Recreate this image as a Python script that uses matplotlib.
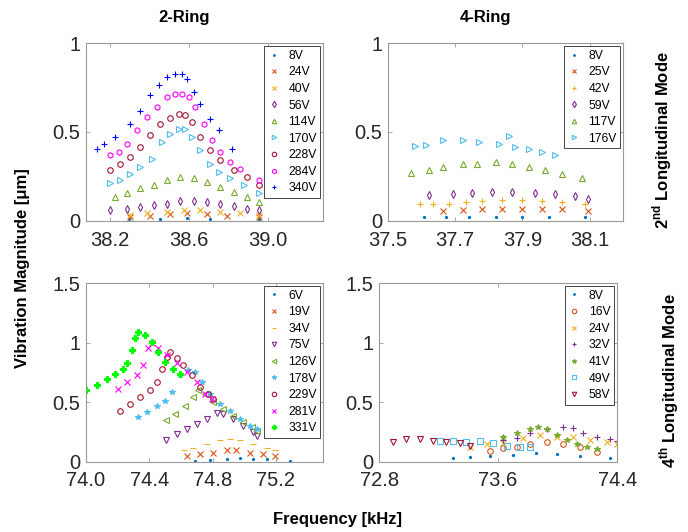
import matplotlib
matplotlib.use("Agg")
import matplotlib.pyplot as plt

plt.rcParams['font.family'] = ['Liberation Sans', 'DejaVu Sans']
plt.rcParams['mathtext.fontset'] = 'custom'
plt.rcParams['mathtext.bf'] = 'Liberation Sans:bold'
plt.rcParams['mathtext.rm'] = 'Liberation Sans'

# ---- 2-Ring, 2nd longitudinal mode ----
r2m2_labels = ["8V", "24V", "40V", "56V", "114V", "170V", "228V", "284V", "340V"]
r2m2_f8 = [38.296, 38.456, 38.59, 38.708, 38.953]
r2m2_a8 = [0.009, 0.011, 0.013, 0.011, 0.009]
r2m2_f24 = [38.304, 38.405, 38.506, 38.59, 38.692, 38.793, 38.953]
r2m2_a24 = [0.022, 0.028, 0.036, 0.041, 0.036, 0.028, 0.019]
r2m2_f40 = [38.304, 38.389, 38.49, 38.574, 38.658, 38.759, 38.86, 38.953]
r2m2_a40 = [0.032, 0.041, 0.050, 0.060, 0.058, 0.049, 0.041, 0.032]
r2m2_f56 = [38.203, 38.288, 38.355, 38.422, 38.49, 38.557, 38.624, 38.692, 38.759, 38.826, 38.894, 38.953]
r2m2_a56 = [0.060, 0.069, 0.079, 0.088, 0.097, 0.112, 0.112, 0.107, 0.094, 0.082, 0.069, 0.060]
r2m2_f114 = [38.229, 38.288, 38.355, 38.422, 38.49, 38.557, 38.624, 38.692, 38.759, 38.826, 38.894, 38.953]
r2m2_a114 = [0.135, 0.154, 0.182, 0.200, 0.228, 0.247, 0.238, 0.219, 0.191, 0.163, 0.135, 0.107]
r2m2_f170 = [38.203, 38.254, 38.304, 38.355, 38.414, 38.464, 38.506, 38.548, 38.582, 38.616, 38.658, 38.708, 38.75, 38.81, 38.877, 38.953]
r2m2_a170 = [0.210, 0.228, 0.266, 0.303, 0.350, 0.444, 0.490, 0.519, 0.519, 0.472, 0.397, 0.322, 0.275, 0.238, 0.200, 0.154]
r2m2_f228 = [38.203, 38.254, 38.304, 38.355, 38.405, 38.456, 38.506, 38.548, 38.582, 38.616, 38.658, 38.708, 38.759, 38.826, 38.894, 38.953]
r2m2_a228 = [0.285, 0.322, 0.360, 0.416, 0.481, 0.547, 0.580, 0.603, 0.594, 0.556, 0.472, 0.397, 0.341, 0.285, 0.247, 0.200]
r2m2_f284 = [38.203, 38.245, 38.288, 38.338, 38.389, 38.44, 38.49, 38.532, 38.565, 38.599, 38.633, 38.675, 38.717, 38.759, 38.81, 38.86, 38.953]
r2m2_a284 = [0.369, 0.388, 0.434, 0.509, 0.584, 0.640, 0.697, 0.715, 0.715, 0.697, 0.640, 0.547, 0.453, 0.388, 0.331, 0.294, 0.228]
r2m2_f340 = [38.136, 38.17, 38.229, 38.304, 38.355, 38.405, 38.447, 38.49, 38.532, 38.565, 38.59, 38.624, 38.658, 38.708, 38.75, 38.818]
r2m2_a340 = [0.406, 0.434, 0.470, 0.547, 0.620, 0.706, 0.762, 0.810, 0.824, 0.828, 0.800, 0.725, 0.660, 0.575, 0.510, 0.406]

# ---- 4-Ring, 2nd longitudinal mode ----
r4m2_labels = ["8V", "25V", "42V", "59V", "117V", "176V"]
r4m2_f8 = [37.608, 37.672, 37.741, 37.82, 37.899, 37.978, 38.086]
r4m2_a8 = [0.019, 0.021, 0.022, 0.022, 0.022, 0.021, 0.019]
r4m2_f25 = [37.663, 37.722, 37.781, 37.84, 37.899, 37.958, 38.017, 38.096]
r4m2_a25 = [0.056, 0.060, 0.066, 0.069, 0.069, 0.066, 0.064, 0.056]
r4m2_f42 = [37.594, 37.633, 37.682, 37.732, 37.781, 37.84, 37.899, 37.958, 38.017, 38.086]
r4m2_a42 = [0.094, 0.094, 0.094, 0.103, 0.112, 0.116, 0.116, 0.112, 0.107, 0.097]
r4m2_f59 = [37.623, 37.692, 37.751, 37.81, 37.869, 37.938, 37.998, 38.057, 38.096]
r4m2_a59 = [0.144, 0.150, 0.157, 0.163, 0.163, 0.157, 0.150, 0.139, 0.125]
r4m2_f117 = [37.569, 37.623, 37.663, 37.722, 37.766, 37.82, 37.869, 37.919, 37.968, 38.017, 38.076]
r4m2_a117 = [0.270, 0.285, 0.303, 0.318, 0.322, 0.328, 0.318, 0.303, 0.285, 0.262, 0.243]
r4m2_f176 = [37.579, 37.613, 37.663, 37.722, 37.771, 37.83, 37.86, 37.879, 37.919, 37.958, 37.998]
r4m2_a176 = [0.419, 0.425, 0.453, 0.453, 0.444, 0.434, 0.476, 0.416, 0.406, 0.388, 0.369]

# ---- 2-Ring, 4th longitudinal mode ----
r2m4_labels = ["6V", "19V", "34V", "75V", "126V", "178V", "229V", "281V", "331V"]
r2m4_f6 = [74.688, 74.783, 74.888, 74.973, 75.057, 75.141, 75.288]
r2m4_a6 = [0.006, 0.014, 0.020, 0.028, 0.025, 0.020, 0.008]
r2m4_f19 = [74.64, 74.72, 74.804, 74.888, 74.951, 75.036, 75.12, 75.194]
r2m4_a19 = [0.048, 0.062, 0.076, 0.096, 0.096, 0.076, 0.062, 0.048]
r2m4_f34 = [74.619, 74.678, 74.762, 74.846, 74.909, 74.973, 75.057, 75.141, 75.194]
r2m4_a34 = [0.096, 0.119, 0.147, 0.184, 0.195, 0.184, 0.147, 0.119, 0.096]
r2m4_f75 = [74.505, 74.573, 74.636, 74.699, 74.762, 74.825, 74.867, 74.931, 74.994, 75.057, 75.078]
r2m4_a75 = [0.184, 0.232, 0.274, 0.316, 0.359, 0.410, 0.401, 0.359, 0.302, 0.246, 0.218]
r2m4_f126 = [74.505, 74.562, 74.625, 74.678, 74.709, 74.752, 74.804, 74.867, 74.931, 74.994, 75.046, 75.078]
r2m4_a126 = [0.353, 0.401, 0.472, 0.542, 0.599, 0.571, 0.500, 0.444, 0.387, 0.331, 0.288, 0.260]
r2m4_f178 = [74.331, 74.383, 74.446, 74.499, 74.541, 74.594, 74.646, 74.688, 74.731, 74.783, 74.846, 74.909, 74.973, 75.036, 75.078]
r2m4_a178 = [0.373, 0.415, 0.472, 0.514, 0.585, 0.726, 0.768, 0.754, 0.669, 0.571, 0.486, 0.429, 0.359, 0.302, 0.274]
r2m4_f229 = [74.215, 74.278, 74.341, 74.404, 74.446, 74.478, 74.509, 74.531, 74.573, 74.615, 74.667, 74.72, 74.773, 74.804]
r2m4_a229 = [0.429, 0.486, 0.542, 0.599, 0.669, 0.782, 0.881, 0.924, 0.867, 0.811, 0.726, 0.627, 0.571, 0.528]
r2m4_f281 = [74.204, 74.257, 74.32, 74.362, 74.394, 74.415, 74.457, 74.509, 74.573, 74.636, 74.699, 74.752, 74.794]
r2m4_a281 = [0.613, 0.669, 0.726, 0.811, 0.952, 0.994, 0.952, 0.895, 0.825, 0.754, 0.669, 0.571, 0.528]
r2m4_f331 = [74.0, 74.067, 74.131, 74.183, 74.236, 74.257, 74.288, 74.309, 74.331, 74.373, 74.415, 74.457, 74.499, 74.552, 74.594]
r2m4_a331 = [0.599, 0.641, 0.698, 0.740, 0.782, 0.825, 0.938, 1.037, 1.088, 1.065, 1.008, 0.924, 0.839, 0.782, 0.740]

# ---- 4-Ring, 4th longitudinal mode ----
r4m4_labels = ["8V", "16V", "24V", "32V", "41V", "49V", "58V"]
r4m4_f8 = [73.298, 73.41, 73.544, 73.701, 73.858, 73.993, 74.15, 74.352]
r4m4_a8 = [0.028, 0.037, 0.048, 0.056, 0.070, 0.062, 0.048, 0.028]
r4m4_f16 = [73.544, 73.634, 73.724, 73.813, 73.926, 74.038, 74.15, 74.262]
r4m4_a16 = [0.093, 0.113, 0.127, 0.149, 0.163, 0.149, 0.127, 0.085]
r4m4_f24 = [73.41, 73.522, 73.634, 73.769, 73.881, 73.993, 74.105, 74.217, 74.329, 74.396]
r4m4_a24 = [0.127, 0.149, 0.155, 0.197, 0.225, 0.211, 0.211, 0.183, 0.169, 0.149]
r4m4_f32 = [73.634, 73.724, 73.813, 73.926, 74.038, 74.105, 74.172, 74.262, 74.352, 74.396]
r4m4_a32 = [0.183, 0.197, 0.239, 0.273, 0.296, 0.282, 0.239, 0.211, 0.189, 0.177]
r4m4_f41 = [73.634, 73.724, 73.813, 73.87, 73.926, 73.993, 74.06, 74.127, 74.195, 74.262]
r4m4_a41 = [0.211, 0.239, 0.273, 0.296, 0.273, 0.225, 0.183, 0.149, 0.127, 0.107]
r4m4_f49 = [73.208, 73.298, 73.387, 73.477, 73.567, 73.657, 73.746, 73.813]
r4m4_a49 = [0.177, 0.177, 0.169, 0.177, 0.155, 0.135, 0.127, 0.121]
r4m4_f58 = [72.894, 72.984, 73.074, 73.163, 73.253, 73.343, 73.41]
r4m4_a58 = [0.169, 0.189, 0.189, 0.177, 0.169, 0.155, 0.135]

BLUE, ORANGE, YELLOW, PURPLE = '#0072BD', '#D95319', '#EDB120', '#7E2F8E'
GREEN, LBLUE, DRED = '#77AC30', '#4DBEEE', '#A2142F'

panels = [
    dict(pos=[0.125, 0.585, 0.345, 0.334], xlim=(38.08, 39.28), ylim=(0, 1),
         xticks=[38.2, 38.6, 39.0], yticks=[0, 0.5, 1], labels=r2m2_labels,
         series=[(r2m2_f8, r2m2_a8), (r2m2_f24, r2m2_a24), (r2m2_f40, r2m2_a40),
                 (r2m2_f56, r2m2_a56), (r2m2_f114, r2m2_a114), (r2m2_f170, r2m2_a170),
                 (r2m2_f228, r2m2_a228), (r2m2_f284, r2m2_a284), (r2m2_f340, r2m2_a340)],
         colors=[BLUE, ORANGE, YELLOW, PURPLE, GREEN, LBLUE, DRED, '#FF00FF', '#0000FF'],
         markers=['.', 'x', 'x', 'd', '^', '>', 'o', 'h', '+']),
    dict(pos=[0.564, 0.585, 0.342, 0.334], xlim=(37.5, 38.2), ylim=(0, 1),
         xticks=[37.5, 37.7, 37.9, 38.1], yticks=[0, 0.5, 1], labels=r4m2_labels,
         series=[(r4m2_f8, r4m2_a8), (r4m2_f25, r4m2_a25), (r4m2_f42, r4m2_a42),
                 (r4m2_f59, r4m2_a59), (r4m2_f117, r4m2_a117), (r4m2_f176, r4m2_a176)],
         colors=[BLUE, ORANGE, YELLOW, PURPLE, GREEN, LBLUE],
         markers=['.', 'x', '+', 'd', '^', '>']),
    dict(pos=[0.125, 0.132, 0.345, 0.336], xlim=(74.0, 75.5), ylim=(0, 1.5),
         xticks=[74.0, 74.4, 74.8, 75.2], yticks=[0, 0.5, 1, 1.5], labels=r2m4_labels,
         series=[(r2m4_f6, r2m4_a6), (r2m4_f19, r2m4_a19), (r2m4_f34, r2m4_a34),
                 (r2m4_f75, r2m4_a75), (r2m4_f126, r2m4_a126), (r2m4_f178, r2m4_a178),
                 (r2m4_f229, r2m4_a229), (r2m4_f281, r2m4_a281), (r2m4_f331, r2m4_a331)],
         colors=[BLUE, ORANGE, YELLOW, PURPLE, GREEN, LBLUE, DRED, '#FF00FF', '#00FF00'],
         markers=['.', 'x', '_', 'v', '<', '*', 'o', 'x', 'P']),
    dict(pos=[0.551, 0.132, 0.346, 0.336], xlim=(72.8, 74.4), ylim=(0, 1.5),
         xticks=[72.8, 73.6, 74.4], yticks=[0, 0.5, 1, 1.5], labels=r4m4_labels,
         series=[(r4m4_f8, r4m4_a8), (r4m4_f16, r4m4_a16), (r4m4_f24, r4m4_a24),
                 (r4m4_f32, r4m4_a32), (r4m4_f41, r4m4_a41), (r4m4_f49, r4m4_a49),
                 (r4m4_f58, r4m4_a58)],
         colors=[BLUE, ORANGE, YELLOW, PURPLE, GREEN, LBLUE, DRED],
         markers=['.', 'o', 'x', '+', '*', 's', 'v']),
]

fig = plt.figure(figsize=(6.88, 5.32), dpi=100)

for p in panels:
    ax = fig.add_axes(p['pos'])
    for (f, a), c, m, lab in zip(p['series'], p['colors'], p['markers'], p['labels']):
        ms = 3 if m == '.' else 4
        ax.plot(f, a, linestyle='none', marker=m, markersize=ms, color=c,
                markerfacecolor='none' if m not in ('.', 'x', '+', '_', 'P', '*') else c,
                markeredgewidth=0.8, label=lab)
    ax.set_xlim(p['xlim'])
    ax.set_ylim(p['ylim'])
    ax.set_xticks(p['xticks'])
    ax.set_xticklabels([f"{t:.1f}" for t in p['xticks']])
    ax.set_yticks(p['yticks'])
    ax.set_yticklabels([f"{t:g}" for t in p['yticks']])
    ax.tick_params(direction='in', length=3, width=0.6, top=True, right=True,
                   labelsize=14.5, colors='#999999', labelcolor='#262626', pad=4)
    ax.tick_params(axis='x', pad=7)
    for s in ax.spines.values():
        s.set_color('#999999')
        s.set_linewidth(0.8)
    leg = ax.legend(loc='upper right', fontsize=8.7, frameon=True, fancybox=False,
                    edgecolor='#262626', framealpha=1, borderpad=0.3,
                    labelspacing=0.38, handlelength=1.0, handletextpad=0.7,
                    borderaxespad=0.25, markerscale=0.8)
    leg.get_frame().set_linewidth(0.6)

fig.text(0.267, 0.968, "2-Ring", ha='center', va='center', fontsize=12, fontweight='bold')
fig.text(0.705, 0.968, "4-Ring", ha='center', va='center', fontsize=12, fontweight='bold')
fig.text(0.032, 0.496, "Vibration Magnitude [μm]", rotation=90, ha='center', va='center',
         fontsize=12, fontweight='bold')
fig.text(0.49, 0.023, "Frequency [kHz]", ha='center', va='center', fontsize=12, fontweight='bold')
fig.text(0.962, 0.737, r"2$^{\mathbf{nd}}$ Longitudinal Mode", rotation=90, ha='center',
         va='center', fontsize=12, fontweight='bold')
fig.text(0.972, 0.284, r"4$^{\mathbf{th}}$ Longitudinal Mode", rotation=90, ha='center',
         va='center', fontsize=12, fontweight='bold')

fig.savefig("out.png", dpi=100)
